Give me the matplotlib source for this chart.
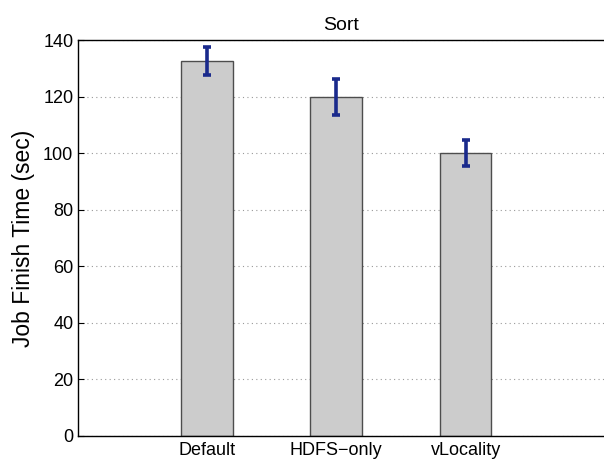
import numpy as np
import matplotlib.pyplot as plt

plt.rcParams['font.family'] = ['Liberation Sans', 'DejaVu Sans']

# job finish times (sec) and their spread
schemes = ["Default", "HDFS\u2212only", "vLocality"]
finish_time = [132.5, 119.8, 100.2]
finish_err = [5.0, 6.3, 4.6]

fig = plt.figure(figsize=(6.04, 4.66), dpi=100)
ax = fig.add_axes([77.5/604, 30/466, 1 - 77.5/604, 396/466])

x = np.arange(1, len(schemes) + 1)
ax.bar(x, finish_time, width=0.4, color="#cccccc", edgecolor="#4d4d4d",
       linewidth=1.0, zorder=2)
ax.errorbar(x, finish_time, yerr=finish_err, fmt="none", ecolor="#1a2a8c",
            elinewidth=2.6, capsize=2.8, capthick=2.6, zorder=3)

ax.set_xlim(0, 4.07)
ax.set_ylim(0, 140)
ax.set_yticks(np.arange(0, 141, 20))
ax.set_xticks(x)
ax.set_xticklabels(schemes)

ax.yaxis.grid(True, linestyle=(0, (1, 3)), color="#9a9a9a", linewidth=0.8)
ax.set_axisbelow(True)
ax.spines["right"].set_visible(False)
for s in ["left", "top", "bottom"]:
    ax.spines[s].set_linewidth(1.0)

ax.tick_params(axis="y", direction="in", length=4, labelsize=13, pad=3)
ax.tick_params(axis="x", length=0, labelsize=13, pad=4)

ax.set_ylabel("Job Finish Time (sec)", fontsize=16.5, labelpad=6)
ax.set_title("Sort", fontsize=14, pad=7)

fig.savefig("out.png", dpi=100)
